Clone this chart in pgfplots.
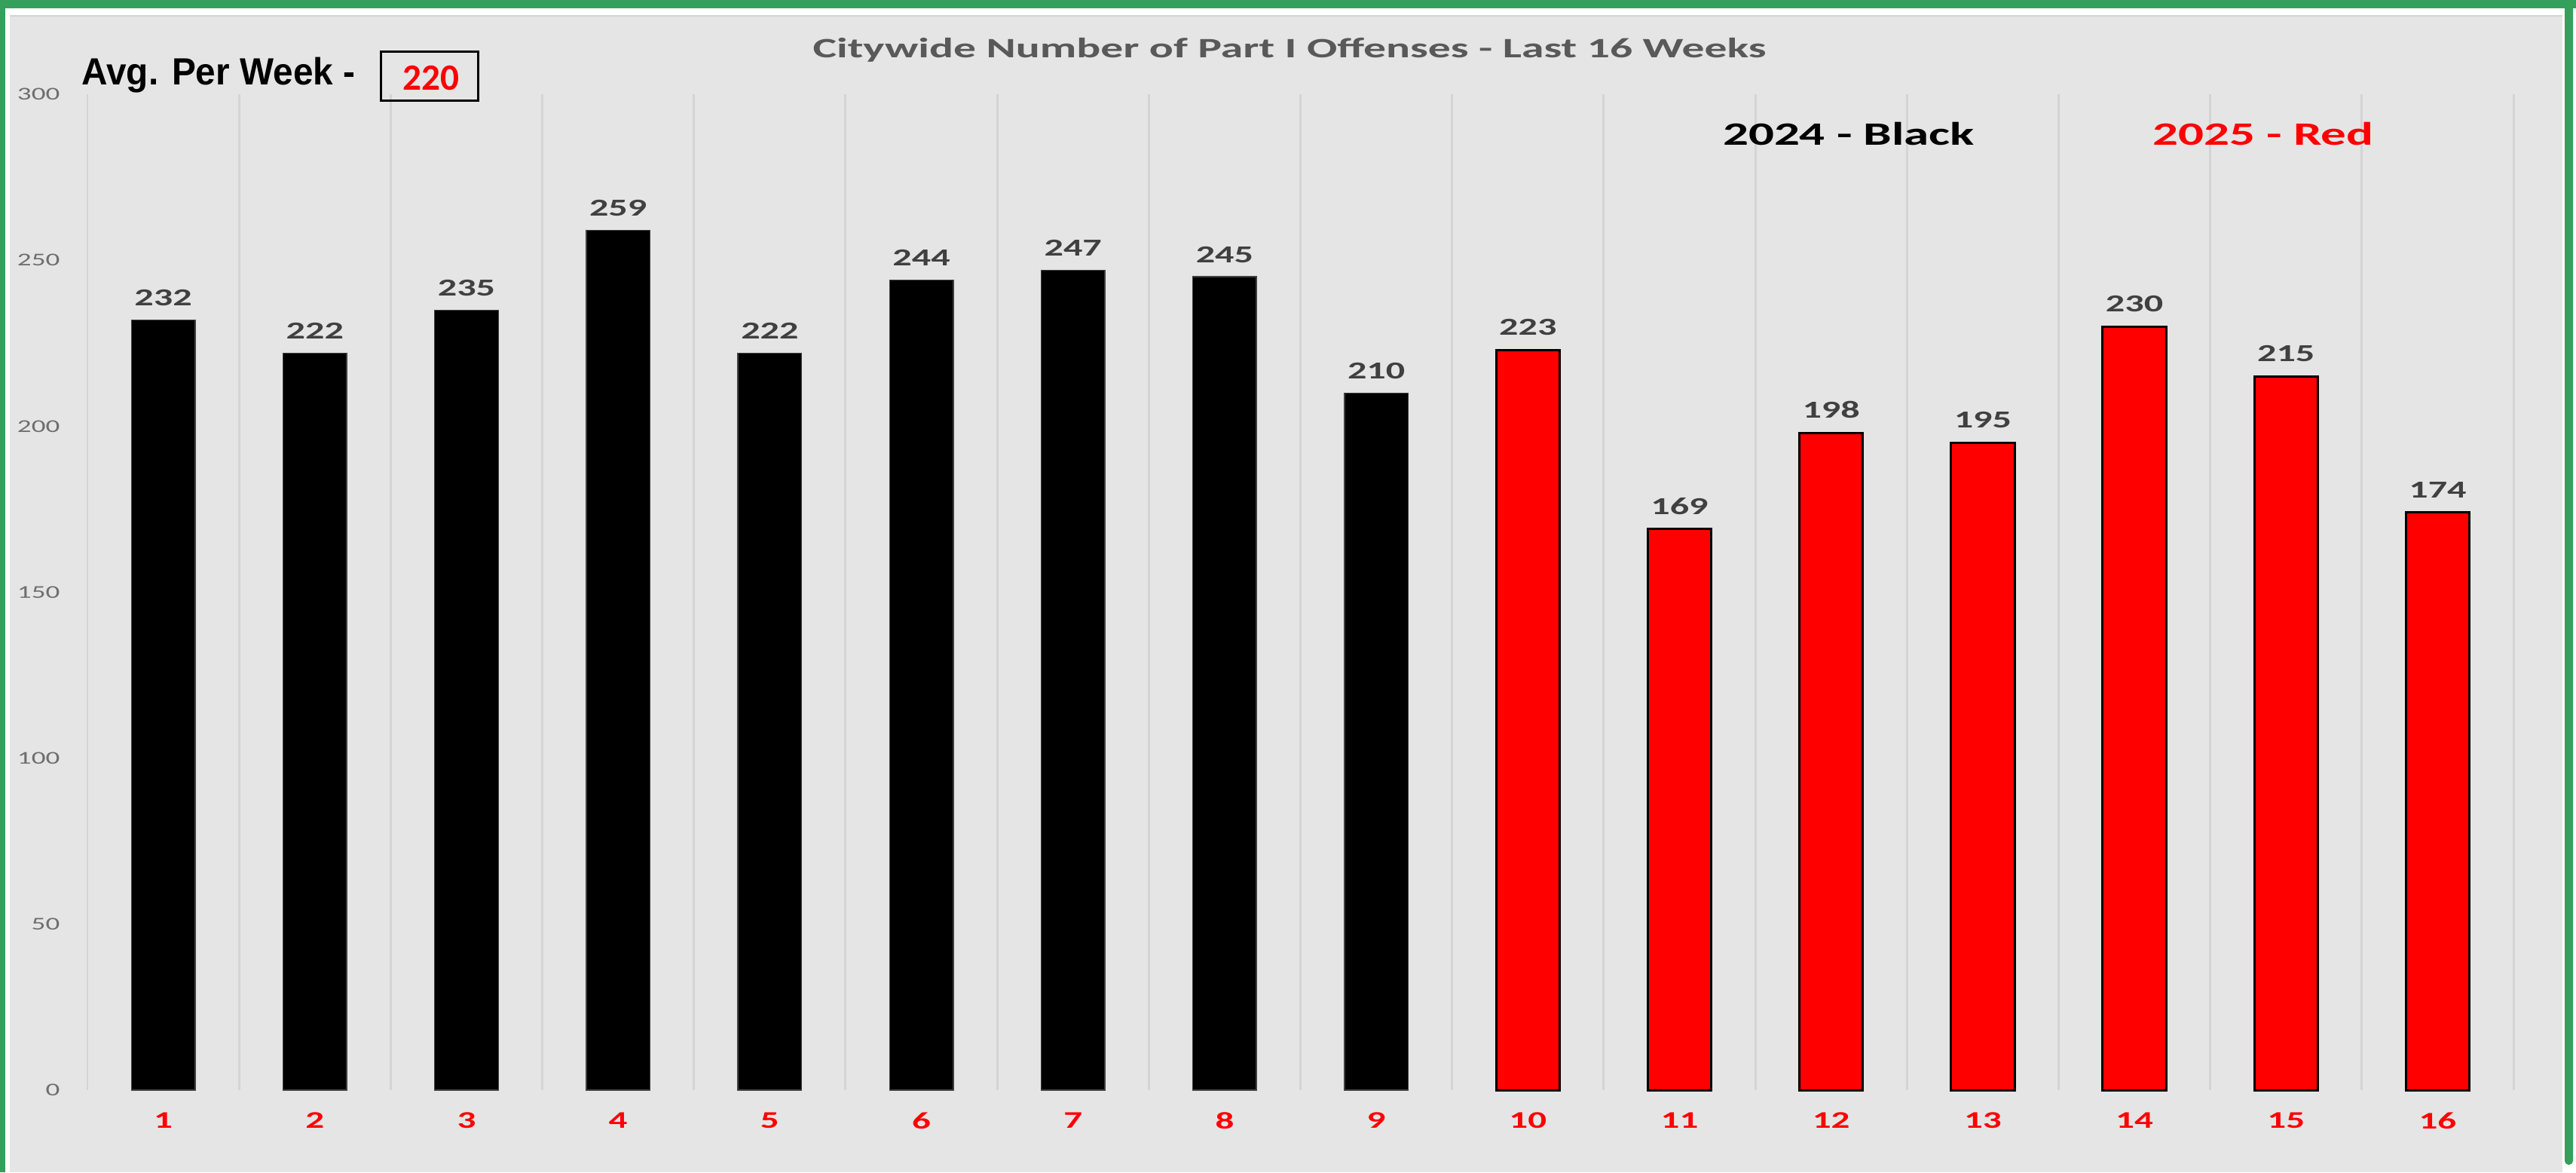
\documentclass[border=0pt]{standalone}
\usepackage{fontspec}
\usepackage{pgfplots}
\pgfplotsset{compat=1.18}
\setmainfont{Carlito}
\newfontfamily\chartfont[FakeStretch=1.55]{Carlito}
\newfontfamily\titlefont[FakeStretch=1.6]{Carlito}
\newfontfamily\arialfont[FakeStretch=0.95]{Liberation Sans}
\definecolor{bggray}{RGB}{229,229,229}
\definecolor{gridgray}{RGB}{212,212,212}
\definecolor{framegreen}{RGB}{52,160,92}
\definecolor{titlegray}{RGB}{89,89,89}
\definecolor{labelgray}{RGB}{64,64,64}
\definecolor{tickgray}{RGB}{110,110,110}
\begin{document}
\begin{tikzpicture}[x=1cm,y=1cm]
% frame and background (1 px = 0.01 cm)
\fill[white] (0,0) rectangle (34.18,15.55);
\fill[framegreen] (0,0) rectangle (0.07,15.55);
\fill[framegreen] (0,15.44) rectangle (34.18,15.55);
\fill[framegreen, rounded corners=0.05cm] (34.03,0.10) rectangle (34.14,15.55);
\fill[bggray] (0.13,0) rectangle (34.00,15.34);
\draw[gridgray, line width=0.6pt] (0.13,15.34) -- (34.00,15.34);
\useasboundingbox (0,0) rectangle (34.18,15.55);
\begin{axis}[
  at={(1.16cm,1.09cm)}, anchor=south west,
  scale only axis, width=32.19cm, height=13.21cm,
  xmin=0.5, xmax=16.5, ymin=0, ymax=300,
  axis line style={draw=none},
  tick style={draw=none},
  xtick={1,...,16},
  minor xtick={0.5,1.5,...,16.5},
  xminorgrids=true,
  minor grid style={gridgray, line width=0.85pt},
  ytick={0,50,...,300},
  /pgf/number format/assume math mode=true,
  yticklabel style={font=\chartfont\fontsize{6.8}{8}\selectfont, color=tickgray, anchor=east, inner sep=0pt, xshift=-0.36cm},
  xticklabel style={font=\chartfont\bfseries\fontsize{9}{10}\selectfont, color=red, anchor=north, inner sep=0pt, yshift=-0.29cm},
  every node near coord/.append style={font=\chartfont\bfseries\fontsize{9.2}{10}\selectfont, color=labelgray, anchor=south, inner sep=0pt, yshift=0.18cm},
  clip=false,
]
\addplot[ybar, bar width=0.42, fill=black, draw=black!75, line width=0.4pt, nodes near coords]
  coordinates {(1,232) (2,222) (3,235) (4,259) (5,222) (6,244) (7,247) (8,245) (9,210)};
\addplot[ybar, bar width=0.42, fill=red, draw=black, line width=0.85pt, nodes near coords]
  coordinates {(10,223) (11,169) (12,198) (13,195) (14,230) (15,215) (16,174)};
\end{axis}
% title
\node[anchor=base, inner sep=0pt, text=titlegray, font=\titlefont\bfseries\fontsize{10.6}{12}\selectfont] at (17.11,14.78) {Citywide Number of Part I Offenses - Last 16 Weeks};
% average box
\node[anchor=base west, inner sep=0pt, font=\arialfont\bfseries\fontsize{14.3}{16}\selectfont] at (1.08,14.42) {Avg. Per Week -};
\draw[black, line width=0.85pt] (5.05,14.21) rectangle (6.34,14.86);
\node[inner sep=0pt, text=red, font=\bfseries\fontsize{14}{16}\selectfont] at (5.72,14.51) {220};
% legend texts
\node[anchor=base, inner sep=0pt, font=\chartfont\bfseries\fontsize{12.3}{14}\selectfont] at (24.53,13.62) {2024 - Black};
\node[anchor=base, inner sep=0pt, text=red, font=\chartfont\bfseries\fontsize{12.3}{14}\selectfont] at (30.03,13.62) {2025 - Red};
\end{tikzpicture}
\end{document}
